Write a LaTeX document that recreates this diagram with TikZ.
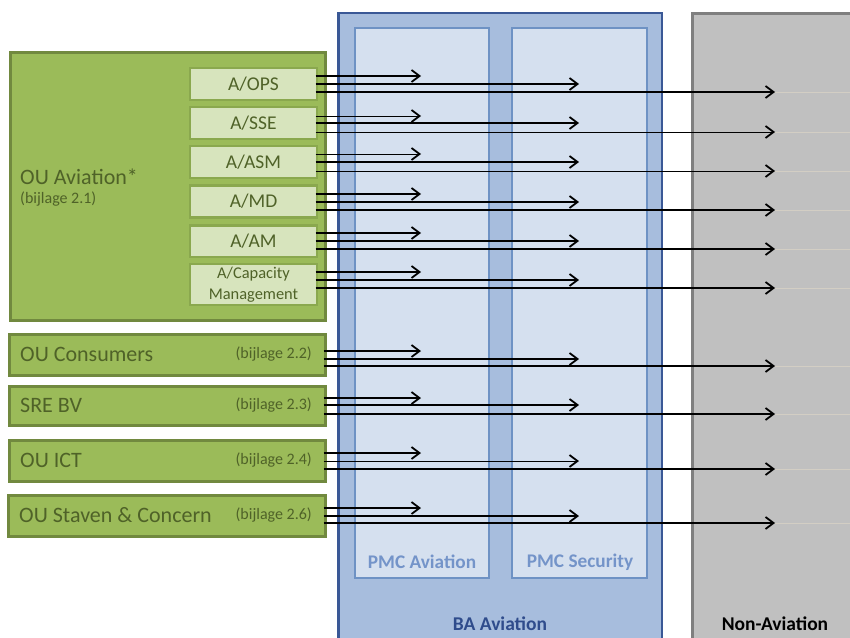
\documentclass[tikz,border=0pt]{standalone}
\usepackage{fontspec}
\setmainfont{Carlito}
\usetikzlibrary{arrows.meta}
\definecolor{gfill}{HTML}{9BBB59}
\definecolor{gline}{HTML}{71893F}
\definecolor{sfill}{HTML}{D7E4BD}
\definecolor{sline}{HTML}{8AA84E}
\definecolor{gtext}{HTML}{4F6228}
\definecolor{bfill}{HTML}{A7BDDD}
\definecolor{bline}{HTML}{3A5896}
\definecolor{pfill}{HTML}{D5E0EF}
\definecolor{pline}{HTML}{6E92C4}
\definecolor{ptext}{HTML}{7494C9}
\definecolor{btext}{HTML}{2F4C8C}
\definecolor{nfill}{HTML}{C0C0C0}
\definecolor{nline}{HTML}{7F7F7F}
\definecolor{faint}{HTML}{D3CEC4}
\begin{document}
\begin{tikzpicture}[x=1pt,y=-1pt,
  rbox/.style={rectangle, anchor=north west, inner sep=0pt, outer sep=0pt},
  oubox/.style={rbox, fill=gfill, draw=gline, line width=3pt},
  subbox/.style={rbox, fill=sfill, draw=sline, line width=2.5pt, minimum width=127pt},
  babox/.style={rbox, fill=bfill, draw=bline, line width=2.5pt},
  pmcbox/.style={rbox, fill=pfill, draw=pline, line width=2.5pt},
  nabox/.style={rbox, fill=nfill, draw=nline, line width=3pt},
  subtxt/.style={text=gtext, font=\fontsize{19.5}{19.5}\selectfont},
  outxt/.style={text=gtext, anchor=west, inner sep=0pt, font=\fontsize{22}{22}\selectfont},
  bijtxt/.style={text=gtext, inner sep=0pt, font=\fontsize{16}{16}\selectfont},
  pmctxt/.style={text=ptext, font=\bfseries\fontsize{19.3}{19.3}\selectfont},
  labtxt/.style={font=\bfseries\fontsize{19.5}{19.5}\selectfont},
  arr/.style={-{Straight Barb[length=8pt,width=12pt,line width=1.8pt]}, line width=1.7pt, black},
  arrthin/.style={arr, line width=1pt},
  fline/.style={faint, line width=1pt}]
\useasboundingbox (0,0) rectangle (850,637);
\clip (0,0) rectangle (850,637);

% big columns
\node[babox, minimum width=323.5pt, minimum height=660pt] (ba) at (338.5,13) {};
\node[pmcbox, minimum width=134pt, minimum height=550pt] (pmca) at (355,28) {};
\node[pmcbox, minimum width=135pt, minimum height=550pt] (pmcs) at (512,28) {};
\node[nabox, minimum width=180pt, minimum height=660pt] (na) at (692,13) {};
\node[pmctxt] (pmcat) at (422,562) {PMC Aviation};
\node[pmctxt] (pmcst) at (580,562) {PMC Security};
\node[labtxt, text=btext] (bat) at (500,624) {BA Aviation};
\node[labtxt, text=black] (nat) at (775,624) {Non-Aviation};

% OU Aviation
\node[oubox, minimum width=315pt, minimum height=268pt] (oua) at (10,52) {};
\node[outxt] (ouat) at (20,177) {OU Aviation*};
\node[bijtxt, anchor=west] (ouab) at (20,199) {(bijlage 2.1)};
\node[subbox, minimum height=32pt] (ops) at (190,68) {};
\node[subbox, minimum height=32pt] (sse) at (190,107) {};
\node[subbox, minimum height=32pt] (asm) at (190,146) {};
\node[subbox, minimum height=32pt] (md) at (190,185.5) {};
\node[subbox, minimum height=31.5pt] (am) at (190,225.5) {};
\node[subbox, minimum height=41pt] (cap) at (190,264) {};
\node[subtxt] at (ops.center) {A/OPS};
\node[subtxt] at (sse.center) {A/SSE};
\node[subtxt] at (asm.center) {A/ASM};
\node[subtxt] at (md.center) {A/MD};
\node[subtxt] at (am.center) {A/AM};
\node[text=gtext, font=\fontsize{16.4}{21}\selectfont, align=center] at (cap.center) {A/Capacity\\Management};

% lower OU boxes
\node[oubox, minimum width=316pt, minimum height=41pt] (cons) at (9,334) {};
\node[oubox, minimum width=316pt, minimum height=39pt] (sre) at (9,386) {};
\node[oubox, minimum width=316pt, minimum height=41pt] (ict) at (9,440) {};
\node[oubox, minimum width=317pt, minimum height=41pt] (stav) at (8,495) {};
\node[outxt] at ([xshift=11pt]cons.west) {OU Consumers};
\node[outxt] at ([xshift=11pt]sre.west) {SRE BV};
\node[outxt] at ([xshift=11pt]ict.west) {OU ICT};
\node[outxt] at ([xshift=11pt]stav.west) {OU Staven \& Concern};
\node[bijtxt, anchor=east] at ([xshift=-13pt]cons.east) {(bijlage 2.2)};
\node[bijtxt, anchor=east] at ([xshift=-13pt]sre.east) {(bijlage 2.3)};
\node[bijtxt, anchor=east] at ([xshift=-13pt]ict.east) {(bijlage 2.4)};
\node[bijtxt, anchor=east] at ([xshift=-13pt]stav.east) {(bijlage 2.6)};

% arrow end columns
\coordinate (t1) at (421,0);
\coordinate (t2) at (579,0);
\coordinate (t3) at (775,0);
\coordinate (edge) at (850,0);

% arrows: box, y1, y2, y3, style1, style2, style3
\foreach \b/\ya/\yb/\yc/\sa/\sb/\sc in {
  ops/76/84/92/arr/arr/arr,
  sse/116/123/132/arrthin/arr/arrthin,
  asm/154/162/171/arrthin/arr/arrthin,
  md/194/202/210/arr/arr/arr,
  am/233/241/249/arr/arr/arr,
  cap/272/280/288/arr/arr/arr,
  cons/351/359/366/arr/arr/arr,
  sre/398/405/414/arr/arr/arr,
  ict/453/461/469/arr/arrthin/arr,
  stav/508/516/523/arr/arr/arr}{
  \draw[\sa] ([xshift=-1.5pt]\b.east |- 0,\ya) -- (t1 |- 0,\ya);
  \draw[\sb] ([xshift=-1.5pt]\b.east |- 0,\yb) -- (t2 |- 0,\yb);
  \draw[fline] (t3 |- 0,\yc) -- (edge |- 0,\yc);
  \draw[\sc] ([xshift=-1.5pt]\b.east |- 0,\yc) -- (t3 |- 0,\yc);
}
\end{tikzpicture}
\end{document}
